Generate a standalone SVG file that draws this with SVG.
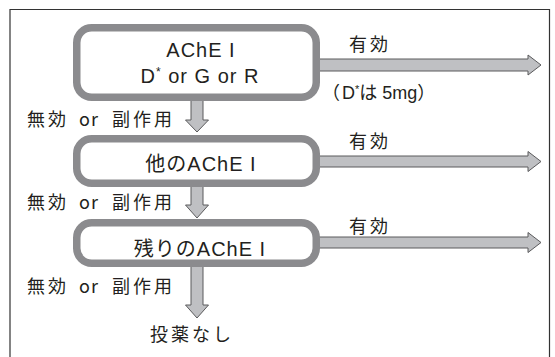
<svg xmlns="http://www.w3.org/2000/svg" width="555" height="357" viewBox="0 0 555 357">
<style>
.frame{fill:none;stroke:#333;stroke-width:1.2}
.box{fill:#fff;stroke:#8b8b8e;stroke-width:7.5}
.arr{fill:#bfc0c3;stroke:#5a5a5c;stroke-width:1;stroke-linejoin:miter}
.t{font-family:"Liberation Sans","Noto Sans CJK JP",sans-serif;fill:#231f20}
.lbl{font-family:"Noto Sans CJK JP","Liberation Sans",sans-serif;fill:#231f20;font-size:18px;letter-spacing:3px}
.bt{font-size:20px;text-anchor:middle;letter-spacing:1px}
</style>
<rect width="555" height="357" fill="#fff"/>
<path class="frame" d="M10,360 V9.5 H549.5 V360"/>
<g id="connectors">
  <polygon class="arr" points="316,59 528,59 528,55 541,65 528,75 528,71 316,71"/>
  <polygon class="arr" points="316,156 528,156 528,151.5 541,161.5 528,171.5 528,167 316,167"/>
  <polygon class="arr" points="316,237 528,237 528,232.5 541,242.5 528,252.5 528,248 316,248"/>
  <polygon class="arr" points="191,98 203,98 203,120 208.5,120 197,132 185.5,120 191,120"/>
  <polygon class="arr" points="191,184 203,184 203,205 208.5,205 197,218 185.5,205 191,205"/>
  <polygon class="arr" points="191,264 203,264 203,305 208.5,305 197,318 185.5,305 191,305"/>
  <text class="lbl" x="349" y="51">有効</text>
  <text class="lbl" x="349" y="148">有効</text>
  <text class="lbl" x="349" y="233">有効</text>
  <text class="t" x="322" y="99" font-size="18" font-family="'Noto Sans CJK JP',sans-serif">（<tspan font-family="Liberation Sans" dx="2">D</tspan><tspan font-size="11" dy="-6">*</tspan><tspan dy="6">は 5mg）</tspan></text>
  <text class="lbl" y="126"><tspan x="27">無効</tspan><tspan x="79" letter-spacing="1">or</tspan><tspan x="112">副作用</tspan></text>
  <text class="lbl" y="209"><tspan x="27">無効</tspan><tspan x="79" letter-spacing="1">or</tspan><tspan x="112">副作用</tspan></text>
  <text class="lbl" y="293"><tspan x="27">無効</tspan><tspan x="79" letter-spacing="1">or</tspan><tspan x="112">副作用</tspan></text>
</g>
<g id="node1">
  <rect class="box" x="76.75" y="27.75" width="239.5" height="69.5" rx="15"/>
  <text class="t bt" x="201" y="57" letter-spacing="1.5">AChE I</text>
  <text class="t bt" x="200" y="83" letter-spacing="0">D<tspan font-size="12" dy="-7">*</tspan><tspan dy="7"> or G or R</tspan></text>
</g>
<g id="node2">
  <rect class="box" x="76.75" y="138.75" width="239.5" height="44.5" rx="15"/>
  <text class="t bt" x="201" y="171" font-size="21" letter-spacing="2">他のAChE I</text>
</g>
<g id="node3">
  <rect class="box" x="76.75" y="222.75" width="239.5" height="40.5" rx="15"/>
  <text class="t bt" x="200" y="256" font-size="21" letter-spacing="3">残りのAChE I</text>
</g>
<g id="node4">
  <text class="lbl" x="150" y="341">投薬なし</text>
</g>
</svg>
